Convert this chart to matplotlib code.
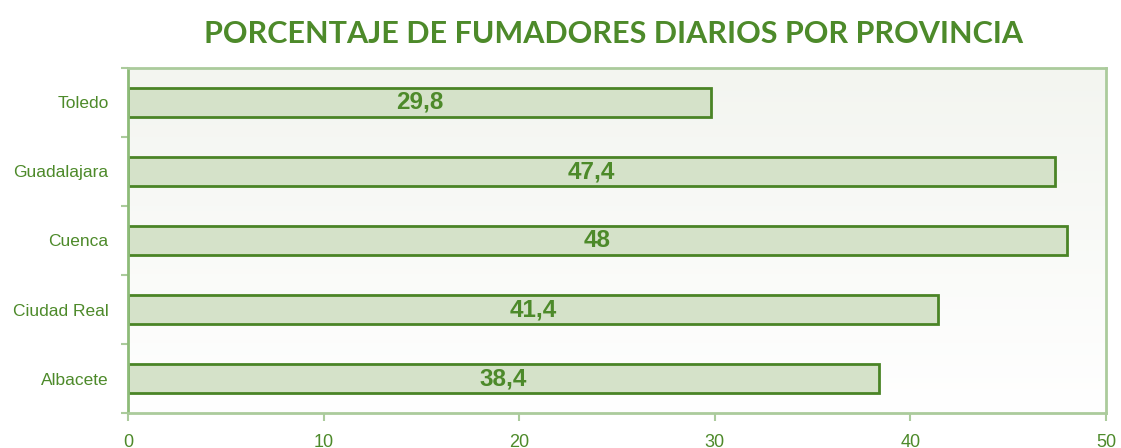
import numpy as np
import matplotlib
matplotlib.use("Agg")
import matplotlib.pyplot as plt

provincias = ["Albacete", "Ciudad Real", "Cuenca", "Guadalajara", "Toledo"]
porcentajes = [38.4, 41.4, 48, 47.4, 29.8]
etiquetas = ["38,4", "41,4", "48", "47,4", "29,8"]
x_ticks = [0, 10, 20, 30, 40, 50]

verde = "#4d8a2a"
verde_borde = "#4a8426"
verde_relleno = "#d5e2c9"
verde_marco = "#abcb9c"

plt.rcParams["font.family"] = ["Liberation Sans", "DejaVu Sans"]

fig = plt.figure(figsize=(11.21, 4.48), dpi=100)
ax = fig.add_axes([128 / 1121, 35 / 448, 978 / 1121, 345 / 448])

# soft background, slightly grey at the top fading to white
grad = np.linspace(0, 1, 256).reshape(-1, 1)
cmap = matplotlib.colors.LinearSegmentedColormap.from_list("bg", ["#ffffff", "#f3f5f0"])
ax.imshow(grad, extent=[0, 1, 0, 1], transform=ax.transAxes, cmap=cmap,
          aspect="auto", origin="lower", zorder=0)

y = np.arange(len(provincias))
ax.barh(y, porcentajes, height=0.41, color=verde_relleno, edgecolor=verde_borde,
        linewidth=2, zorder=2)
for yi, v, lab in zip(y, porcentajes, etiquetas):
    ax.text(v / 2, yi, lab, ha="center", va="center", fontsize=17.5,
            fontweight="bold", color=verde, zorder=3)

ax.set_xlim(0, 50)
ax.set_ylim(-0.5, len(provincias) - 0.5)

ax.set_xticks(x_ticks)
ax.set_xticklabels([str(t) for t in x_ticks], fontsize=13, color=verde)
ax.set_yticks(np.arange(-0.5, len(provincias)), labels=[])
ax.set_yticks(y, minor=True)
ax.set_yticklabels(provincias, minor=True, fontsize=12.5, color=verde)
ax.tick_params(axis="y", which="major", length=5, width=1.5, color=verde_marco, direction="out")
ax.tick_params(axis="y", which="minor", length=0, pad=14)
ax.tick_params(axis="x", length=6, width=1.5, color=verde_marco, pad=9)

for side in ["top", "right", "bottom"]:
    ax.spines[side].set_color(verde_marco)
    ax.spines[side].set_linewidth(2)
ax.spines["left"].set_color("#8dbb78")
ax.spines["left"].set_linewidth(2)

fig.text(0.547, 0.925, "PORCENTAJE DE FUMADORES DIARIOS POR PROVINCIA",
         ha="center", va="center", fontsize=22, fontweight="bold",
         color=verde, family=["Lato", "DejaVu Sans"])

fig.savefig("out.png", dpi=100)
